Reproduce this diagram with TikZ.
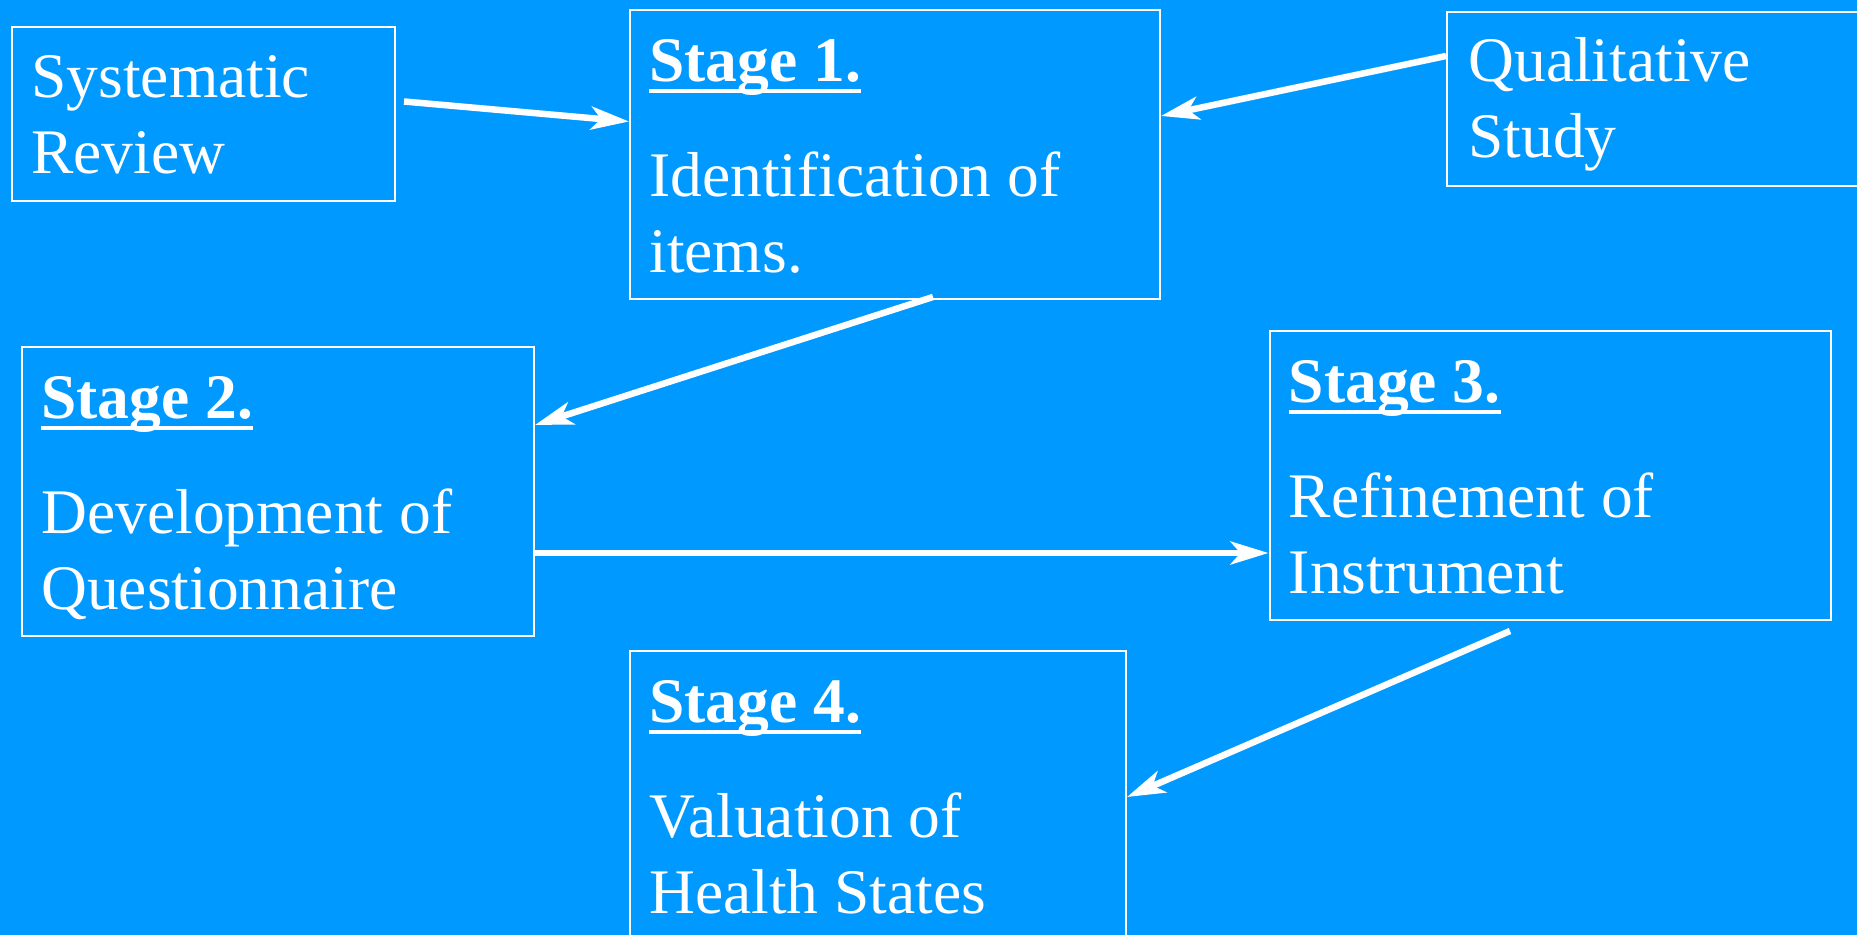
\documentclass[tikz,border=0pt]{standalone}
\usepackage{fontspec}
\setmainfont{Liberation Serif}
\usetikzlibrary{arrows.meta,calc}
\definecolor{bgblue}{RGB}{0,153,255}
\begin{document}
\begin{tikzpicture}[x=0.5pt,y=-0.5pt,
  box/.style={draw=white,line width=1pt,rectangle,anchor=north west,inner sep=0pt},
  txt/.style={anchor=base west,inner sep=0pt,text=white,font=\fontsize{31.75}{38}\selectfont},
  stg/.style={anchor=base west,inner sep=0pt,text=white,font=\fontsize{31.75}{38}\selectfont\bfseries},
  uline/.style={white,line width=2pt},
  conn/.style={white,line width=3.25pt,-{Stealth[length=19pt,width=11.5pt,inset=5pt]}}]
\fill[bgblue] (0,0) rectangle (1857,935);
\useasboundingbox (0,0) rectangle (1857,935);
\clip (0,0) rectangle (1857,935);

% boxes
\node[box,minimum width=191.5pt,minimum height=87pt] (sr) at (11,26) {};
\node[box,minimum width=265pt,minimum height=144.5pt] (s1) at (629,9.5) {};
\node[box,minimum width=215pt,minimum height=87pt] (qs) at (1446,11) {};
\node[box,minimum width=256pt,minimum height=144.5pt] (s2) at (21,346) {};
\node[box,minimum width=280.5pt,minimum height=144.5pt] (s3) at (1268.5,330) {};
\node[box,minimum width=248pt,minimum height=150pt] (s4) at (629,650) {};

% texts
\node[txt] (sr1) at ($(sr.north west)+(20,72)$) {Systematic};
\node[txt] (sr2) at ($(sr.north west)+(20,148)$) {Review};

\node[stg] (st1) at ($(s1.north west)+(20,72)$) {Stage 1.};
\node[txt] (s1a) at ($(s1.north west)+(20,187)$) {Identification of};
\node[txt] (s1b) at ($(s1.north west)+(20,263)$) {items.};

\node[txt] (qs1) at ($(qs.north west)+(22,71)$) {Qualitative};
\node[txt] (qs2) at ($(qs.north west)+(22,147)$) {Study};

\node[stg] (st2) at ($(s2.north west)+(20,72)$) {Stage 2.};
\node[txt] (s2a) at ($(s2.north west)+(20,187)$) {Development of};
\node[txt] (s2b) at ($(s2.north west)+(20,263)$) {Questionnaire};

\node[stg] (st3) at ($(s3.north west)+(20,72)$) {Stage 3.};
\node[txt] (s3a) at ($(s3.north west)+(20,187)$) {Refinement of};
\node[txt] (s3b) at ($(s3.north west)+(20,263)$) {Instrument};

\node[stg] (st4) at ($(s4.north west)+(20,72)$) {Stage 4.};
\node[txt] (s4a) at ($(s4.north west)+(20,187)$) {Valuation of};
\node[txt] (s4b) at ($(s4.north west)+(20,263)$) {Health States};

% underlines
\foreach \n in {st1,st2,st3,st4}{
  \draw[uline] ($(\n.base west)+(0,10)$) -- ($(\n.base east)+(0,10)$);
}

% connector free ends
\coordinate (c1) at (404,101.5);
\coordinate (c3) at (933,297);
\coordinate (c5) at (1510,631);

\draw[conn] (c1) -- ($(s1.north west)+(0,112)$);
\draw[conn] ($(qs.north west)+(0,45)$) -- ($(s1.north east)+(0,106.5)$);
\draw[conn] (c3) -- ($(s2.north east)+(0,79)$);
\coordinate (c4) at ($(s2.north east)+(0,207)$);
\draw[conn] (c4) -- (s3.west |- c4);
\draw[conn] (c5) -- ($(s4.north east)+(0,147)$);
\end{tikzpicture}
\end{document}
